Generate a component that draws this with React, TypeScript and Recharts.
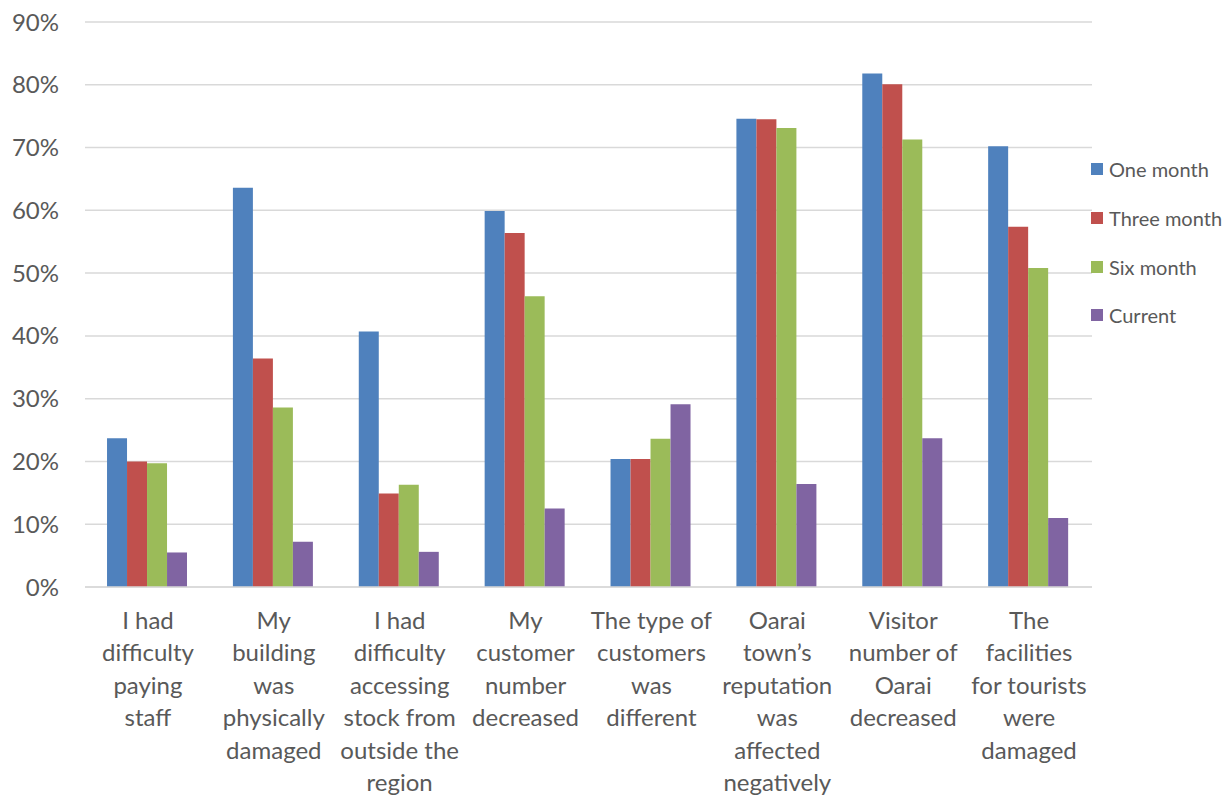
import React from "react";
import { BarChart, Bar, XAxis, YAxis, CartesianGrid } from "recharts";

const categories = [
  "I had\ndifficulty\npaying\nstaff",
  "My\nbuilding\nwas\nphysically\ndamaged",
  "I had\ndifficulty\naccessing\nstock from\noutside the\nregion",
  "My\ncustomer\nnumber\ndecreased",
  "The type of\ncustomers\nwas\ndifferent",
  "Oarai\ntown\u2019s\nreputation\nwas\naffected\nnegatively",
  "Visitor\nnumber of\nOarai\ndecreased",
  "The\nfacilities\nfor tourists\nwere\ndamaged",
];

const oneMonth = [0.237, 0.636, 0.407, 0.599, 0.204, 0.746, 0.818, 0.702];
const threeMonth = [0.2, 0.364, 0.149, 0.564, 0.204, 0.745, 0.801, 0.574];
const sixMonth = [0.197, 0.286, 0.163, 0.463, 0.236, 0.731, 0.713, 0.508];
const current = [0.055, 0.072, 0.056, 0.125, 0.291, 0.164, 0.237, 0.11];

const seriesNames = ["One month", "Three month", "Six month", "Current"];
const seriesKeys = ["one", "three", "six", "current"];
const seriesColors = ["#4F81BD", "#C0504D", "#9BBB59", "#8064A2"];

const yTicks = [0, 0.1, 0.2, 0.3, 0.4, 0.5, 0.6, 0.7, 0.8, 0.9];

const data = categories.map((c, i) => ({
  name: c,
  one: oneMonth[i],
  three: threeMonth[i],
  six: sixMonth[i],
  current: current[i],
}));

const FONT = "Lato, 'Open Sans', sans-serif";
const TEXT = "#595959";

const CategoryTick = (props: any) => {
  const { x, y, payload } = props;
  const lines = String(payload.value).split("\n");
  return (
    <text x={x} y={y} textAnchor="middle" fill={TEXT} fontSize={24} fontFamily={FONT}>
      {lines.map((l, i) => (
        <tspan key={i} x={x} dy={i === 0 ? 42 : 32.4}>
          {l}
        </tspan>
      ))}
    </text>
  );
};

export default function App() {
  return (
    <div style={{ position: "absolute", left: 0, top: 0, width: 1232, height: 796, background: "#fff" }}>
      <BarChart
        width={1232}
        height={796}
        data={data}
        margin={{ top: 22, right: 140, bottom: 0, left: 0 }}
        barCategoryGap="17.5%"
        barGap={0}
      >
        <CartesianGrid vertical={false} stroke="#D9D9D9" strokeWidth={1.5} />
        <XAxis
          dataKey="name"
          interval={0}
          tickLine={false}
          tickSize={0}
          tickMargin={0}
          axisLine={{ stroke: "#D9D9D9", strokeWidth: 1.5 }}
          tick={<CategoryTick />}
          height={209}
        />
        <YAxis
          width={85}
          domain={[0, 0.9]}
          ticks={yTicks}
          tickFormatter={(v: number) => `${Math.round(v * 100)}%`}
          axisLine={false}
          tickLine={false}
          tickSize={0}
          tickMargin={26}
          tick={{ fill: TEXT, fontSize: 24, fontFamily: FONT }}
        />
        {seriesKeys.map((k, i) => (
          <Bar key={k} dataKey={k} name={seriesNames[i]} fill={seriesColors[i]} isAnimationActive={false} />
        ))}
      </BarChart>
      <div style={{ position: "absolute", left: 1091, top: 145, fontFamily: FONT, fontSize: 20, color: TEXT }}>
        {seriesNames.map((n, i) => (
          <div key={n} style={{ display: "flex", alignItems: "center", height: 48.7, whiteSpace: "nowrap" }}>
            <span style={{ display: "inline-block", width: 12, height: 12, background: seriesColors[i], marginRight: 6 }} />
            <span>{n}</span>
          </div>
        ))}
      </div>
    </div>
  );
}
